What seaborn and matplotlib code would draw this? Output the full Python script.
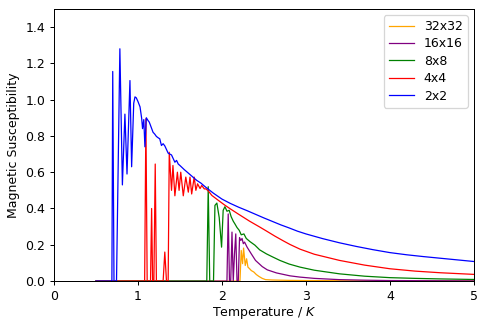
import matplotlib
matplotlib.use("Agg")
import matplotlib.pyplot as plt
import seaborn as sns
import pandas as pd

# Magnetic susceptibility of Ising lattices of different sizes vs temperature
temp_32 = [0.50, 2.215, 2.23, 2.246, 2.258, 2.278, 2.294, 2.31, 2.33, 2.35, 2.38, 2.41,
           2.44, 2.48, 2.52, 2.60, 2.80, 3.00, 3.50, 4.00, 5.00]
chi_32 = [0.0, 0.0, 0.169, 0.096, 0.182, 0.086, 0.123, 0.077, 0.068, 0.058, 0.050, 0.036,
          0.026, 0.015, 0.008, 0.006, 0.004, 0.003, 0.002, 0.001, 0.0005]

temp_16 = [0.50, 2.06, 2.075, 2.09, 2.105, 2.12, 2.135, 2.15, 2.165, 2.18, 2.195, 2.21,
           2.225, 2.24, 2.255, 2.27, 2.30, 2.35, 2.40, 2.48, 2.54, 2.65, 2.73, 2.81,
           2.93, 3.10, 3.40, 3.70, 4.00, 4.50, 5.00]
chi_16 = [0.0, 0.0, 0.37, 0.0, 0.0, 0.27, 0.0, 0.15, 0.26, 0.0, 0.0, 0.24,
          0.224, 0.235, 0.206, 0.215, 0.187, 0.150, 0.114, 0.080, 0.062, 0.045, 0.037, 0.029,
          0.022, 0.015, 0.008, 0.005, 0.003, 0.002, 0.001]

temp_8 = [0.50, 1.82, 1.837, 1.855, 1.90, 1.917, 1.94, 1.968, 1.996, 2.015, 2.036, 2.06,
          2.087, 2.11, 2.135, 2.155, 2.18, 2.206, 2.23, 2.262, 2.29, 2.333, 2.393, 2.45,
          2.53, 2.60, 2.69, 2.80, 2.93, 3.10, 3.40, 3.70, 4.00, 4.30, 4.60, 5.00]
chi_8 = [0.0, 0.0, 0.52, 0.0, 0.0, 0.417, 0.430, 0.350, 0.187, 0.390, 0.410, 0.385,
         0.390, 0.355, 0.330, 0.315, 0.295, 0.280, 0.255, 0.260, 0.235, 0.218, 0.198, 0.172,
         0.150, 0.134, 0.114, 0.094, 0.077, 0.060, 0.040, 0.027, 0.019, 0.015, 0.012, 0.009]

temp_4 = [0.50, 1.08, 1.095, 1.11, 1.15, 1.163, 1.175, 1.19, 1.206, 1.22, 1.30, 1.32,
          1.34, 1.36, 1.373, 1.40, 1.417, 1.44, 1.47, 1.49, 1.51, 1.54, 1.57, 1.60,
          1.62, 1.64, 1.67, 1.69, 1.71, 1.74, 1.76, 1.79, 1.81, 1.84, 1.88, 1.96,
          2.03, 2.10, 2.20, 2.33, 2.45, 2.53, 2.63, 2.73, 2.81, 2.93, 3.10, 3.40,
          3.70, 4.00, 4.30, 4.60, 5.00]
chi_4 = [0.0, 0.0, 0.895, 0.0, 0.0, 0.40, 0.0, 0.0, 0.645, 0.0, 0.0, 0.16,
         0.0, 0.0, 0.71, 0.50, 0.637, 0.47, 0.60, 0.50, 0.60, 0.47, 0.573, 0.49,
         0.573, 0.48, 0.573, 0.50, 0.536, 0.51, 0.527, 0.508, 0.508, 0.496, 0.472, 0.444,
         0.420, 0.398, 0.368, 0.330, 0.298, 0.276, 0.248, 0.222, 0.202, 0.176, 0.148, 0.114,
         0.088, 0.068, 0.055, 0.046, 0.037]

temp_2 = [0.50, 0.68, 0.69, 0.70, 0.715, 0.745, 0.785, 0.815, 0.845, 0.87, 0.905, 0.925,
          0.95, 0.965, 0.98, 1.00, 1.025, 1.045, 1.055, 1.07, 1.083, 1.10, 1.12, 1.135,
          1.16, 1.18, 1.20, 1.22, 1.24, 1.26, 1.28, 1.30, 1.32, 1.34, 1.36, 1.38,
          1.40, 1.42, 1.44, 1.46, 1.48, 1.50, 1.55, 1.60, 1.65, 1.70, 1.75, 1.80,
          1.90, 2.00, 2.10, 2.20, 2.30, 2.40, 2.50, 2.60, 2.70, 2.80, 2.90, 3.00,
          3.20, 3.40, 3.60, 3.80, 4.00, 4.20, 4.40, 4.60, 4.80, 5.00]
chi_2 = [0.0, 0.0, 0.0, 1.155, 0.0, 0.0, 1.28, 0.53, 0.92, 0.59, 1.105, 0.63,
         0.98, 1.015, 1.01, 0.99, 0.96, 0.895, 0.84, 0.89, 0.74, 0.90, 0.885, 0.876,
         0.845, 0.82, 0.81, 0.797, 0.79, 0.784, 0.747, 0.757, 0.745, 0.725, 0.705, 0.70,
         0.695, 0.675, 0.655, 0.665, 0.645, 0.637, 0.615, 0.595, 0.575, 0.555, 0.54, 0.52,
         0.484, 0.452, 0.428, 0.407, 0.388, 0.368, 0.348, 0.329, 0.310, 0.293, 0.275, 0.260,
         0.234, 0.211, 0.191, 0.173, 0.157, 0.145, 0.135, 0.126, 0.117, 0.108]

labels = ["32x32", "16x16", "8x8", "4x4", "2x2"]
colors = ["orange", "purple", "green", "red", "blue"]
temps = [temp_32, temp_16, temp_8, temp_4, temp_2]
chis = [chi_32, chi_16, chi_8, chi_4, chi_2]

plt.rcParams["font.family"] = ["DejaVu Sans"]
plt.rcParams["font.size"] = 10

DPI = 90
fig = plt.figure(figsize=(486 / DPI, 328 / DPI), dpi=DPI)
ax = fig.add_axes([0.111, 0.143, 0.864, 0.830])

for lab, col, t, c in zip(labels, colors, temps, chis):
    df = pd.DataFrame({"T": t, "chi": c})
    sns.lineplot(data=df, x="T", y="chi", ax=ax, color=col, linewidth=1.0,
                 label=lab, estimator=None, sort=False)

ax.set_xlim(0, 5)
ax.set_ylim(0, 1.5)
ax.set_xticks([0, 1, 2, 3, 4, 5])
ax.set_yticks([0.0, 0.2, 0.4, 0.6, 0.8, 1.0, 1.2, 1.4])
ax.set_yticklabels([f"{v:.1f}" for v in ax.get_yticks()])
ax.set_xlabel("Temperature / $K$", labelpad=2)
ax.set_ylabel("Magnetic Susceptibility")
ax.legend(loc="upper right", labelspacing=0.35)

fig.savefig("out.png", dpi=DPI)
